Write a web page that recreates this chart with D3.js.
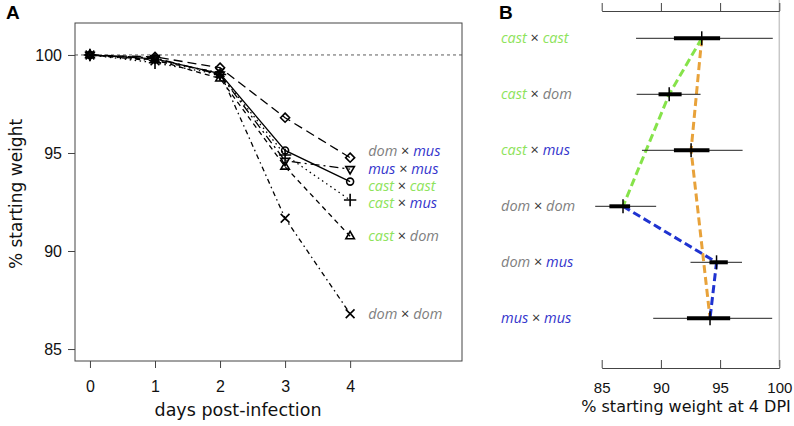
<!DOCTYPE html>
<html>
<head>
<meta charset="utf-8">
<script src="https://cdn.jsdelivr.net/npm/d3@7"></script>
<style>
  body { margin: 0; background: #fff; }
  svg { display: block; }
</style>
</head>
<body>
<svg width="794" height="426"></svg>
<script>
// ---- data, panel A: % starting weight by day ----
const days = [0, 1, 2, 3, 4];
const seriesParents = [["dom", "mus"], ["mus", "mus"], ["cast", "cast"], ["cast", "mus"], ["cast", "dom"], ["dom", "dom"]];
const domMus   = [100, 99.9, 99.35, 96.8, 94.76];
const musMus   = [100, 99.85, 99.0, 94.6, 94.18];
const castCast = [100, 99.8, 99.05, 95.13, 93.54];
const castMus  = [100, 99.6, 99.0, 94.9, 92.6];
const castDom  = [100, 99.75, 98.8, 94.3, 90.75];
const domDom   = [100, 99.7, 99.1, 91.67, 86.8];
const yTicksA = [85, 90, 95, 100];

// ---- data, panel B: weight at 4 DPI ----
const groupsB = [["cast", "cast"], ["cast", "dom"], ["cast", "mus"], ["dom", "dom"], ["dom", "mus"], ["mus", "mus"]];
const meanB = [93.45, 90.7, 92.55, 86.8, 94.7, 94.15];
const lowB  = [87.9, 87.95, 88.4, 84.45, 92.5, 89.35];
const highB = [99.45, 93.35, 96.9, 89.6, 96.85, 99.4];
const q1B   = [91.1, 89.8, 91.1, 85.65, 94.1, 92.2];
const q3B   = [95.0, 91.75, 94.1, 87.4, 95.65, 95.85];
const xTicksB = [85, 90, 95, 100];
// clines joining groups (indices into groupsB)
const clineCastDom = [0, 1, 3];
const clineCastMus = [0, 2, 5];
const clineDomMus  = [3, 4, 5];

const parentColor = { cast: "#8ee35c", dom: "#808080", mus: "#3434cc" };

const svg = d3.select("svg");
const tickFont = "'Liberation Sans', Arial, sans-serif";
const titleFont = "'DejaVu Sans', sans-serif";
const labelFont = "'Open Sans', sans-serif";

function crossLabel(sel, pair) {
  sel.append("tspan").attr("font-style", "italic").attr("fill", parentColor[pair[0]]).text(pair[0]);
  sel.append("tspan").attr("fill", "#333").text(" × ");
  sel.append("tspan").attr("font-style", "italic").attr("fill", parentColor[pair[1]]).text(pair[1]);
}

// ================= Panel A =================
const xA = d3.scaleLinear().domain([-0.23, 5.72]).range([75, 462]);
const yA = d3.scaleLinear().domain([84.39, 101.63]).range([361, 23]);

const gA = svg.append("g");

// reference line at 100%
gA.append("line")
  .attr("x1", xA.range()[0]).attr("x2", xA.range()[1])
  .attr("y1", yA(100)).attr("y2", yA(100))
  .attr("stroke", "#333").attr("stroke-width", 0.8).attr("stroke-dasharray", "3 3");

const series = [
  { vals: domMus,   dash: "9 5",        sym: d3.symbolDiamond2,  rot: 0 },
  { vals: musMus,   dash: "9 4 2 4",    sym: d3.symbolTriangle2, rot: 180 },
  { vals: castCast, dash: null,         sym: d3.symbolCircle,    rot: 0 },
  { vals: castMus,  dash: "1.5 3.5",    sym: d3.symbolPlus,      rot: 0 },
  { vals: castDom,  dash: "5 4",        sym: d3.symbolTriangle2, rot: 0 },
  { vals: domDom,   dash: "1.5 3.5 5 3.5", sym: d3.symbolTimes,  rot: 0 }
];

const line = d3.line().x((d, i) => xA(days[i])).y(d => yA(d));

series.forEach(s => {
  gA.append("path")
    .datum(s.vals)
    .attr("fill", "none")
    .attr("stroke", "#000")
    .attr("stroke-width", 1.3)
    .attr("stroke-dasharray", s.dash)
    .attr("d", line);

  gA.selectAll(null)
    .data(s.vals)
    .join("path")
    .attr("transform", (d, i) => `translate(${xA(days[i])},${yA(d)}) rotate(${s.rot})`)
    .attr("d", d3.symbol(s.sym, s.sym === d3.symbolCircle ? 38 : 52))
    .attr("fill", "none")
    .attr("stroke", "#000")
    .attr("stroke-width", 1.6);
});

// labels at day 4, spread apart so they do not overlap
const labelY = series.map(s => yA(s.vals[s.vals.length - 1]));
for (let it = 0; it < 300; it++) {
  const order = d3.range(labelY.length).sort((a, b) => labelY[a] - labelY[b]);
  for (let k = 1; k < order.length; k++) {
    const a = order[k - 1], b = order[k];
    const diff = labelY[b] - labelY[a];
    if (diff < 17.3) {
      const push = (17.3 - diff) / 2;
      labelY[a] -= push;
      labelY[b] += push;
    }
  }
}
series.forEach((s, i) => {
  gA.append("text")
    .attr("x", xA(4) + 18)
    .attr("y", labelY[i])
    .attr("dy", "0.35em")
    .attr("font-family", labelFont)
    .attr("font-size", 14.5)
    .call(crossLabel, seriesParents[i]);
});

// box
gA.append("rect")
  .attr("x", xA.range()[0]).attr("y", yA.range()[1])
  .attr("width", xA.range()[1] - xA.range()[0])
  .attr("height", yA.range()[0] - yA.range()[1])
  .attr("fill", "none").attr("stroke", "#444").attr("stroke-width", 1);

// axes
const axA_y = gA.append("g")
  .attr("transform", `translate(${xA.range()[0]},0)`)
  .call(d3.axisLeft(yA).tickValues(yTicksA).tickSize(7).tickPadding(6).tickSizeOuter(0));
const axA_x = gA.append("g")
  .attr("transform", `translate(0,${yA.range()[0]})`)
  .call(d3.axisBottom(xA).tickValues(days).tickFormat(d3.format("d")).tickSize(7).tickPadding(13).tickSizeOuter(0));
[axA_y, axA_x].forEach(ax => {
  ax.select(".domain").remove();
  ax.selectAll("line").attr("stroke", "#444");
  ax.selectAll("text").attr("font-family", tickFont).attr("font-size", 16).attr("fill", "#111");
});

gA.append("text")
  .attr("x", (xA(0) + xA(4)) / 2 + 18).attr("y", 416)
  .attr("text-anchor", "middle")
  .attr("font-family", titleFont).attr("font-size", 17.5).attr("fill", "#111")
  .text("days post-infection");

gA.append("text")
  .attr("transform", `translate(22,${(yA.range()[0] + yA.range()[1]) / 2 + 2}) rotate(-90)`)
  .attr("text-anchor", "middle")
  .attr("font-family", titleFont).attr("font-size", 17).attr("fill", "#111")
  .text("% starting weight");

svg.append("text")
  .attr("x", 6).attr("y", 19)
  .attr("font-family", tickFont).attr("font-weight", "bold").attr("font-size", 19)
  .text("A");

// ================= Panel B =================
const xB = d3.scaleLinear().domain([85, 100]).range([601.7, 779.3]);
const yB = d3.scalePoint().domain(d3.range(groupsB.length)).range([38.3, 318.3]);

const gB = svg.append("g");

// light vertical line at 100
gB.append("line")
  .attr("x1", xB(100)).attr("x2", xB(100))
  .attr("y1", 0).attr("y2", 366)
  .attr("stroke", "#c8c8c8").attr("stroke-width", 1.5);

// top axis
const axB_top = gB.append("g")
  .attr("transform", "translate(0,11)")
  .call(d3.axisTop(xB).tickValues(xTicksB).tickSize(8).tickSizeOuter(0).tickFormat(""));
// bottom axis, ticks pointing up
const axB_bot = gB.append("g")
  .attr("transform", "translate(0,368)")
  .call(d3.axisBottom(xB).tickValues(xTicksB).tickSize(-8).tickPadding(14).tickSizeOuter(0));
[axB_top, axB_bot].forEach(ax => {
  ax.select(".domain").attr("stroke", "#444");
  ax.selectAll("line").attr("stroke", "#444");
  ax.selectAll("text").attr("font-family", tickFont).attr("font-size", 15).attr("fill", "#111");
});

// clines
const clineLine = d3.line().x(i => xB(meanB[i])).y(i => yB(i));
[[clineCastMus, "#e8a23a"], [clineCastDom, "#86e34a"], [clineDomMus, "#1f33d0"]].forEach(([idx, col]) => {
  gB.append("path")
    .datum(idx)
    .attr("d", clineLine)
    .attr("fill", "none")
    .attr("stroke", col)
    .attr("stroke-width", 3)
    .attr("stroke-dasharray", "8 4");
});

// intervals
groupsB.forEach((g, i) => {
  const y = yB(i);
  gB.append("line")
    .attr("x1", xB(lowB[i])).attr("x2", xB(highB[i]))
    .attr("y1", y).attr("y2", y)
    .attr("stroke", "#222").attr("stroke-width", 1);
  gB.append("line")
    .attr("x1", xB(q1B[i])).attr("x2", xB(q3B[i]))
    .attr("y1", y).attr("y2", y)
    .attr("stroke", "#000").attr("stroke-width", 4);
  gB.append("line")
    .attr("x1", xB(meanB[i])).attr("x2", xB(meanB[i]))
    .attr("y1", y - 7).attr("y2", y + 7)
    .attr("stroke", "#000").attr("stroke-width", 1.5);
  gB.append("text")
    .attr("x", 501)
    .attr("y", y)
    .attr("dy", "0.35em")
    .attr("font-family", labelFont)
    .attr("font-size", 14.5)
    .call(crossLabel, g);
});

gB.append("text")
  .attr("x", 686).attr("y", 412)
  .attr("text-anchor", "middle")
  .attr("font-family", titleFont).attr("font-size", 16).attr("fill", "#111")
  .text("% starting weight at 4 DPI");

svg.append("text")
  .attr("x", 499).attr("y", 19)
  .attr("font-family", tickFont).attr("font-weight", "bold").attr("font-size", 19)
  .text("B");
</script>
</body>
</html>
